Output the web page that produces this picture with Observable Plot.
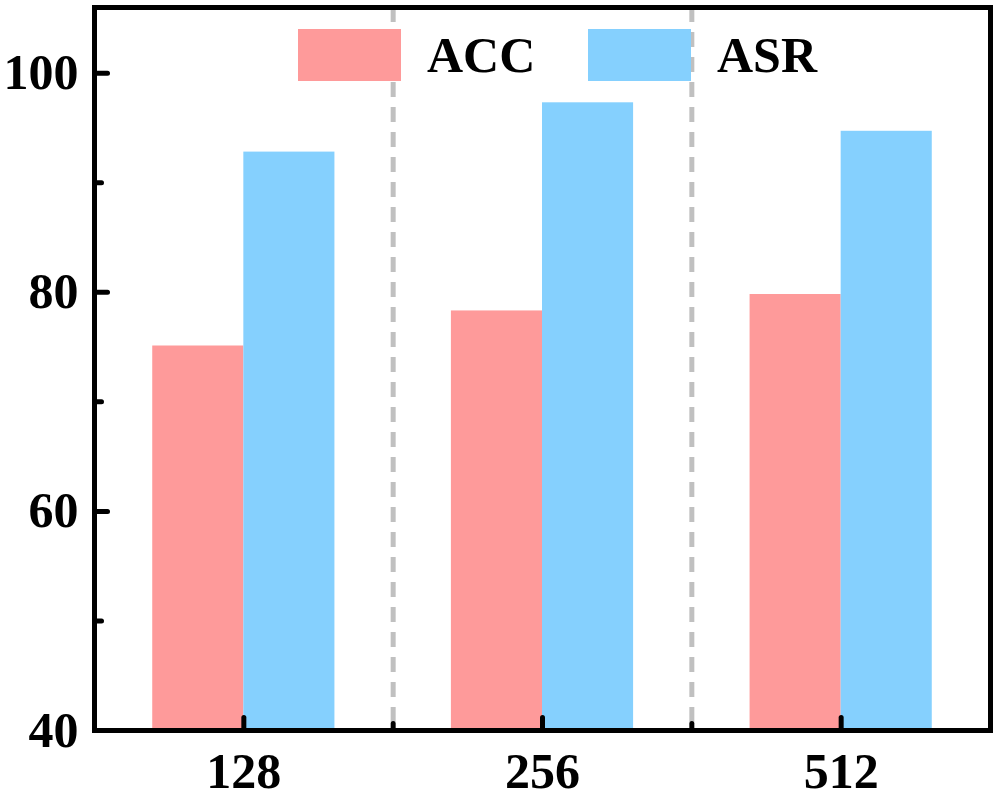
<!DOCTYPE html>
<html>
<head>
<meta charset="utf-8">
<script src="https://cdn.jsdelivr.net/npm/d3@7"></script>
<script src="https://cdn.jsdelivr.net/npm/@observablehq/plot@0.6"></script>
<style>
  html, body { margin: 0; padding: 0; background: #fff; }
  #wrap { position: relative; width: 997px; height: 798px; }
  .legend-item { position: absolute; top: 29px; height: 52px; display: flex; align-items: center;
    font-family: "Liberation Serif", "Times New Roman", serif; font-weight: bold; font-size: 50px; line-height: 1; }
  .sw { width: 103px; height: 52px; margin-right: 26px; }
</style>
</head>
<body>
<div id="wrap"></div>
<script>
// ---- data ----
const sizes = ["128", "256", "512"];
const metrics = ["ACC", "ASR"];
const accValues = [75.1, 78.3, 79.8];
const asrValues = [92.8, 97.3, 94.7];
const yDomain = [40, 106];
const yMajorTicks = [40, 60, 80, 100];
const yMinorTicks = [50, 70, 90];
const colors = { ACC: "#FE9A9A", ASR: "#85D0FE" };

// table built from arrays
const rows = [];
sizes.forEach((s, i) => {
  rows.push({ size: s, i, metric: "ACC", value: accValues[i] });
  rows.push({ size: s, i, metric: "ASR", value: asrValues[i] });
});
const barW = 0.305;
const xMajor = sizes.map((s, i) => i);
const xMinor = sizes.slice(1).map((s, i) => i + 0.5);

const tickShape = { draw(context, l) { context.moveTo(0, 0); context.lineTo(0, -l); } };
const font = { fontFamily: "'Liberation Serif', 'Times New Roman', serif", fontWeight: "bold", fontSize: 50 };

const chart = Plot.plot({
  width: 997,
  height: 798,
  marginTop: 7,
  marginBottom: 68,
  marginLeft: 94,
  marginRight: 7,
  style: { fontFamily: "'Liberation Serif', 'Times New Roman', serif" },
  x: { type: "linear", domain: [-0.5, sizes.length - 0.5], axis: null },
  y: { domain: yDomain, axis: null },
  marks: [
    Plot.rectY(rows, {
      x1: d => d.metric === "ACC" ? d.i - barW : d.i,
      x2: d => d.metric === "ACC" ? d.i : d.i + barW,
      y1: () => yDomain[0],
      y2: "value",
      fill: d => colors[d.metric]
    }),
    Plot.ruleX(xMinor, { x: d => d, stroke: "#c0c0c0", strokeWidth: 5, strokeDasharray: "15,10" }),
    Plot.frame({ stroke: "black", strokeWidth: 5 }),
    Plot.vector(yMajorTicks, { y: d => d, frameAnchor: "left", rotate: 90, length: 13, anchor: "start", shape: tickShape, stroke: "black", strokeWidth: 5 }),
    Plot.vector(yMinorTicks, { y: d => d, frameAnchor: "left", rotate: 90, length: 7, anchor: "start", shape: tickShape, stroke: "black", strokeWidth: 5 }),
    Plot.vector(xMajor, { x: d => d, frameAnchor: "bottom", rotate: 0, length: 13, anchor: "start", shape: tickShape, stroke: "black", strokeWidth: 5 }),
    Plot.vector(xMinor, { x: d => d, frameAnchor: "bottom", rotate: 0, length: 7, anchor: "start", shape: tickShape, stroke: "black", strokeWidth: 5 }),
    Plot.text(yMajorTicks, { y: d => d, frameAnchor: "left", text: d => String(d), textAnchor: "end", lineAnchor: "middle", dx: -16, fill: "black", ...font }),
    Plot.text(xMajor, { x: d => d, frameAnchor: "bottom", text: d => sizes[d], textAnchor: "middle", lineAnchor: "top", dy: 22, fill: "black", ...font })
  ]
});

const wrap = document.getElementById("wrap");
wrap.appendChild(chart);

// legend overlay inside plot area
const legendLeft = { ACC: 298, ASR: 588 };
metrics.forEach(m => {
  const item = document.createElement("div");
  item.className = "legend-item";
  item.style.left = legendLeft[m] + "px";
  const sw = document.createElement("div");
  sw.className = "sw";
  sw.style.background = colors[m];
  const label = document.createElement("span");
  label.textContent = m;
  item.appendChild(sw);
  item.appendChild(label);
  wrap.appendChild(item);
});
</script>
</body>
</html>
